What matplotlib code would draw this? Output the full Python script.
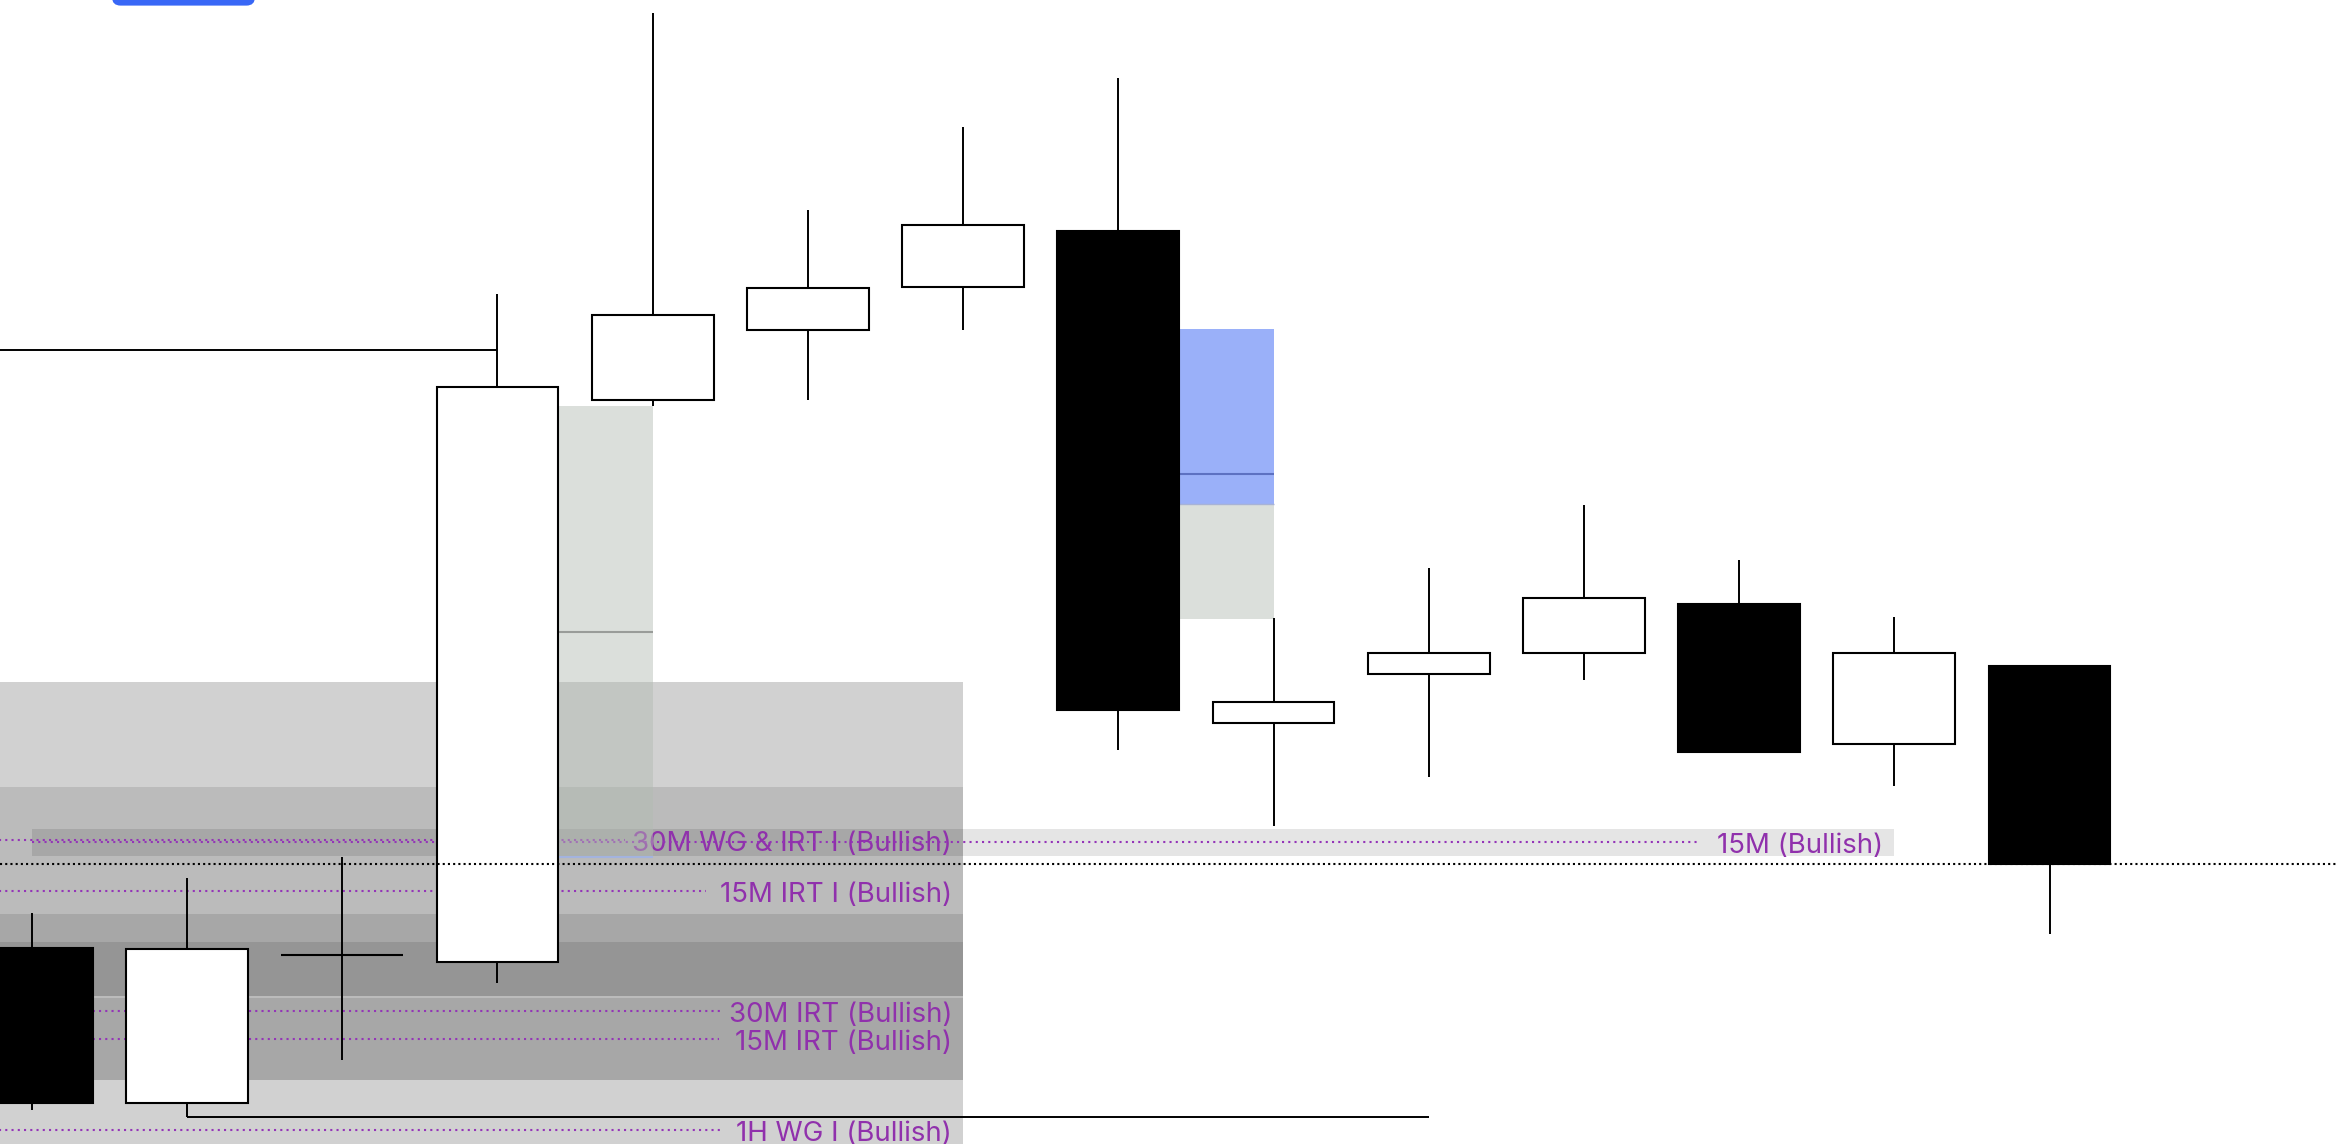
import matplotlib
matplotlib.use("Agg")
import matplotlib.pyplot as plt
from matplotlib.patches import Rectangle, FancyBboxPatch

# ---------------- data ----------------
candle_open  = [21049.00, 21010.25, 21047.25, 21045.50, 21186.00, 21203.50, 21214.25,
                21228.25, 21105.25, 21117.50, 21122.75, 21135.00, 21100.00, 21119.50]
candle_high  = [21057.75, 21066.50, 21071.75, 21212.50, 21282.75, 21233.50, 21254.25,
                21266.50, 21131.50, 21144.00, 21159.75, 21146.00, 21131.75, 21119.50]
candle_low   = [21008.50, 21006.75, 21021.00, 21040.25, 21184.50, 21186.00, 21203.50,
                21098.50, 21079.50, 21091.75, 21116.00, 21098.00, 21089.50, 21052.50]
candle_close = [21010.25, 21048.75, 21047.25, 21189.25, 21207.25, 21214.00, 21229.75,
                21108.50, 21110.50, 21122.75, 21136.50, 21098.00, 21122.75, 21070.00]

# liquidity levels (purple dotted lines with labels)
level_names  = ["30M WG & IRT I (Bullish)", "15M (Bullish)", "15M IRT I (Bullish)",
                "30M IRT (Bullish)", "15M IRT (Bullish)", "1H WG I (Bullish)"]
level_prices = [21076.00, 21075.50, 21063.25, 21033.25, 21026.25, 21003.50]
level_from   = [-1.0, 0.0, -1.0, -1.0, -1.0, -1.0]
level_to     = [3.82, 10.75, 4.343, 4.438, 4.426, 4.45]
level_label  = [5.93, 11.93, 5.93, 5.93, 5.93, 5.93]

# grey zones (top, bottom), ending at bar 6
zone_tops    = [21115.50, 21089.25, 21057.50, 21050.50, 21036.50]
zone_bottoms = [20990.00, 21016.00, 21037.00, 21037.00, 21016.00]
zone_alpha   = [0.18, 0.10, 0.10, 0.10, 0.10]
zone_end = 6

# highlighted band behind "30M WG & IRT I" / "15M"
band_top, band_bottom, band_from, band_to = 21078.75, 21072.00, 0, 12

# gap boxes
gap1_top, gap1_mid, gap1_bottom = 21184.50, 21128.00, 21071.75          # after bar 3
blue_top, blue_mid, blue_bottom = 21203.75, 21167.50, 21160.00          # after bar 7
gap2_top, gap2_bottom = 21160.00, 21131.25

# horizontal key levels
high_level = 21198.50      # from left edge to bar 3
low_level = 21006.75       # from bar 1 to bar 9
last_price = 21070.00

# ---------------- figure ----------------
W, H = 2338, 1144
fig = plt.figure(figsize=(W / 100, H / 100), dpi=100)
ax = fig.add_axes([0, 0, 1, 1])
step_px = 155.2
x0 = -31.9 / step_px
x1 = x0 + W / step_px
ax.set_xlim(x0, x1)
ax.set_ylim(21000, 21286)
ax.axis("off")

purple = "#9031ac"
purple_dots = "#9434b8"
font = ["Inter", "DejaVu Sans"]

# zones
for t, b, a in zip(zone_tops, zone_bottoms, zone_alpha):
    ax.add_patch(Rectangle((x0 - 1, b), zone_end - x0 + 1, t - b,
                           facecolor="black", alpha=a, lw=0, zorder=1))
ax.add_patch(Rectangle((band_from, band_bottom), band_to - band_from, band_top - band_bottom,
                       facecolor="black", alpha=0.10, lw=0, zorder=1.2))

# levels and labels
for name, p, a, b, lx in zip(level_names, level_prices, level_from, level_to, level_label):
    ax.hlines(p, a, b, colors=purple_dots, lw=1.5, linestyles=(0, (1, 2.0)), zorder=3)
    ax.text(lx, p - 1.1, name, ha="right", va="center", color=purple,
            fontsize=19.9, family=font, zorder=2.5)

hw = 0.3925
# gap box after bar 3
gcol = (178 / 255, 187 / 255, 178 / 255)
ax.add_patch(Rectangle((3 + hw + 0.004, gap1_bottom), 1 - hw - 0.004, gap1_top - gap1_bottom,
                       facecolor=gcol, alpha=0.46, lw=0, zorder=4))
ax.hlines(gap1_mid, 3 + hw, 4, colors="#999c99", lw=1.5, zorder=4.1)
ax.hlines(gap1_bottom, 3 + hw, 4, colors="#a3b3de", lw=1.5, zorder=4.1)

# blue box after bar 7
ax.add_patch(Rectangle((7 + hw + 0.004, blue_bottom), 1 - hw - 0.004, blue_top - blue_bottom,
                       facecolor="#9ab0f9", lw=0, zorder=4))
ax.hlines(blue_mid, 7 + hw, 8, colors="#5d71c2", lw=1.5, zorder=4.1)
ax.add_patch(Rectangle((7 + hw + 0.004, gap2_bottom), 1 - hw - 0.004, gap2_top - gap2_bottom,
                       facecolor=gcol, alpha=0.46, lw=0, zorder=4))
ax.hlines(gap2_top, 7 + hw, 8, colors="#a8b3d6", lw=1.0, zorder=4.1)

# key levels
ax.hlines(high_level, x0 - 1, 3, colors="black", lw=1.4, zorder=5)
ax.hlines(low_level, 1, 9, colors="black", lw=1.4, zorder=5)

# candles
for i, (o, h, l, c) in enumerate(zip(candle_open, candle_high, candle_low, candle_close)):
    ax.vlines(i, l, h, colors="black", lw=1.4, zorder=5)
    up = c >= o
    ax.add_patch(Rectangle((i - hw, min(o, c)), 2 * hw, abs(c - o),
                           facecolor="white" if up else "black", edgecolor="black",
                           lw=1.5, zorder=5.5))

# last price dotted line
ax.axhline(last_price, color="black", lw=1.5, ls=(0, (1, 1.5)), zorder=6)

# partial blue button at top-left
r = 0.055
ax.add_patch(FancyBboxPatch((0.516, 21284.6), 1.4375 - 0.516, 12,
                            boxstyle=f"round,pad=0,rounding_size={r}",
                            mutation_aspect=step_px / 4.0,
                            facecolor="#3867f6", edgecolor="none", zorder=7))

fig.savefig("out.png", dpi=100)
